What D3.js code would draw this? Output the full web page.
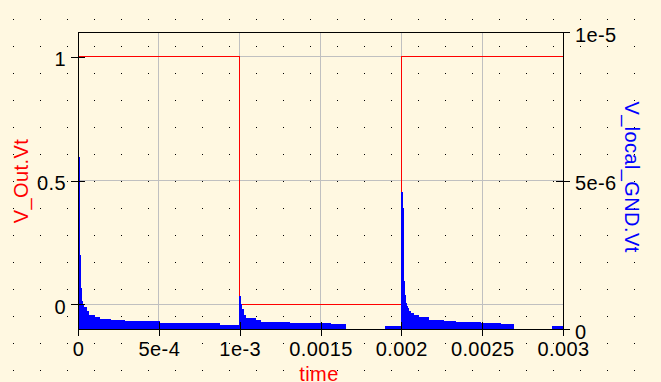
<!DOCTYPE html>
<html>
<head>
<meta charset="utf-8">
<script src="https://cdn.jsdelivr.net/npm/d3@7"></script>
<style>
  body { margin: 0; background: #fff8e1; }
  svg { display: block; }
  text { font-family: "Liberation Sans", Arial, sans-serif; font-size: 20px; letter-spacing: 0.4px; }
</style>
</head>
<body>
<svg id="chart" width="661" height="382"></svg>
<script>
// V_Out.Vt square wave (left axis), step after
let redT = [0, 0, 0.001, 0.002, 0.003]
let redV = [0, 1, 0, 1, 1]

// V_local_GND.Vt envelope (right axis), step after
let blueT = [0, 6.2e-6, 1.24e-5, 1.86e-5, 2.47e-5, 3.09e-5, 3.7e-5, 4.95e-5, 6.8e-5, 9.9e-5,
    1.36e-4, 1.98e-4, 2.9e-4, 5.07e-4, 6.0e-4, 8.78e-4,
    0.001, 1.0062e-3, 1.0124e-3, 1.0247e-3, 1.039e-3, 1.095e-3, 1.126e-3, 1.311e-3, 1.559e-3, 1.652e-3, 1.899e-3,
    0.002, 2.0062e-3, 2.0124e-3, 2.0186e-3, 2.0247e-3, 2.0309e-3, 2.0371e-3, 2.0433e-3, 2.0557e-3, 2.0742e-3,
    2.1052e-3, 2.167e-3, 2.2598e-3, 2.334e-3, 2.4887e-3, 2.6124e-3, 2.6928e-3, 2.9340e-3, 0.003]
let blueV = [5.79e-6, 2.49e-6, 1.38e-6, 1.08e-6, 0.91e-6, 0.81e-6, 0.71e-6, 0.58e-6, 0.47e-6, 0.39e-6,
    0.33e-6, 0.27e-6, 0.24e-6, 0.2e-6, 0.17e-6, 0.125e-6,
    1.08e-6, 0.81e-6, 0.64e-6, 0.45e-6, 0.34e-6, 0.27e-6, 0.22e-6, 0.17e-6, 0.135e-6, 0, 0.07e-6,
    4.58e-6, 4.07e-6, 1.59e-6, 1.14e-6, 0.87e-6, 0.77e-6, 0.70e-6, 0.58e-6, 0.53e-6, 0.44e-6,
    0.38e-6, 0.30e-6, 0.25e-6, 0.21e-6, 0.19e-6, 0.135e-6, 0, 0.1e-6, 0.1e-6]

let xTicks = [0, 0.0005, 0.001, 0.0015, 0.002, 0.0025, 0.003]
let xTickLabels = ["0", "5e-4", "1e-3", "0.0015", "0.002", "0.0025", "0.003"]
let yLeftTicks = [0, 0.5, 1]
let yLeftLabels = ["0", "0.5", "1"]
let yRightTicks = [0, 5e-6, 1e-5]
let yRightLabels = ["0", "5e-6", "1e-5"]

var svg = d3.select("#chart")

let plotLeft = 78, plotRight = 563, plotTop = 32, plotBottom = 329

let x = d3.scaleLinear().domain([0, 0.003]).range([plotLeft, plotRight])
let yL = d3.scaleLinear().domain([-0.1, 1.1]).range([plotBottom, plotTop])
let yR = d3.scaleLinear().domain([0, 1e-5]).range([plotBottom, plotTop])

// dotted background
let dots = []
for (let dx = 13; dx < 661; dx += 27) {
    for (let dy = 19; dy < 382; dy += 27) dots.push([dx, dy])
}
svg.append("g").selectAll("rect")
    .data(dots)
    .join("rect")
    .attr("x", d => d[0])
    .attr("y", d => d[1])
    .attr("width", 1)
    .attr("height", 1)
    .attr("fill", "#000")

// grid
let grid = svg.append("g").attr("stroke", "#c0c0c0").attr("stroke-width", 1).attr("shape-rendering", "crispEdges")
grid.selectAll("line.v")
    .data(xTicks.slice(1, -1))
    .join("line")
    .attr("class", "v")
    .attr("x1", d => x(d)).attr("x2", d => x(d))
    .attr("y1", plotTop).attr("y2", plotBottom)
grid.selectAll("line.h")
    .data(yLeftTicks)
    .join("line")
    .attr("class", "h")
    .attr("x1", plotLeft).attr("x2", plotRight)
    .attr("y1", d => yL(d)).attr("y2", d => yL(d))

// red line
let redData = redT.map((t, i) => [t, redV[i]])
svg.append("path")
    .datum(redData)
    .attr("fill", "none")
    .attr("stroke", "#ff0000")
    .attr("stroke-width", 1)
    .attr("shape-rendering", "crispEdges")
    .attr("d", d3.line().curve(d3.curveStepAfter).x(d => x(d[0])).y(d => yL(d[1])))

// blue area
let blueData = blueT.map((t, i) => [t, blueV[i]])
svg.append("path")
    .datum(blueData)
    .attr("fill", "#0000ff")
    .attr("stroke", "#0000ff")
    .attr("stroke-width", 1)
    .attr("shape-rendering", "crispEdges")
    .attr("d", d3.area().curve(d3.curveStepAfter).x(d => x(d[0])).y0(yR(0)).y1(d => yR(d[1])))

// frame
svg.append("rect")
    .attr("x", plotLeft).attr("y", plotTop)
    .attr("width", plotRight - plotLeft).attr("height", plotBottom - plotTop)
    .attr("fill", "none")
    .attr("stroke", "#000")
    .attr("shape-rendering", "crispEdges")

// axes
let xAxis = svg.append("g")
    .attr("transform", `translate(0,${plotBottom})`)
    .call(d3.axisBottom(x).tickValues(xTicks).tickFormat((d, i) => xTickLabels[i]).tickSizeOuter(0))
let lAxis = svg.append("g")
    .attr("transform", `translate(${plotLeft},0)`)
    .call(d3.axisLeft(yL).tickValues(yLeftTicks).tickFormat((d, i) => yLeftLabels[i]).tickSizeOuter(0))
let rAxis = svg.append("g")
    .attr("transform", `translate(${plotRight},0)`)
    .call(d3.axisRight(yR).tickValues(yRightTicks).tickFormat((d, i) => yRightLabels[i]).tickSizeOuter(0))

for (let ax of [xAxis, lAxis, rAxis]) {
    ax.select(".domain").remove()
    ax.attr("font-family", null).attr("font-size", null)
    ax.selectAll(".tick line").attr("stroke", "#000").attr("shape-rendering", "crispEdges")
    ax.selectAll(".tick text").attr("fill", "#000")
}
xAxis.selectAll(".tick line").attr("y1", -7).attr("y2", 7)
xAxis.selectAll(".tick text").attr("y", 27).attr("dy", 0)
lAxis.selectAll(".tick line").attr("x1", -7).attr("x2", 7)
lAxis.selectAll(".tick text").attr("x", -12).attr("dy", 0).attr("y", 9)
rAxis.selectAll(".tick line").attr("x1", -7).attr("x2", 7)
rAxis.selectAll(".tick text").attr("x", 12).attr("dy", 0).attr("y", 9)

// axis titles
svg.append("text")
    .attr("x", 319).attr("y", 381)
    .attr("text-anchor", "middle")
    .attr("fill", "#ff0000")
    .text("time")
svg.append("text")
    .attr("transform", "translate(28,181) rotate(-90)")
    .attr("text-anchor", "middle")
    .attr("fill", "#ff0000")
    .text("V_Out.Vt")
svg.append("text")
    .attr("transform", "translate(625,177) rotate(90)")
    .attr("text-anchor", "middle")
    .attr("fill", "#0000ff")
    .text("V_local_GND.Vt")
</script>
</body>
</html>
